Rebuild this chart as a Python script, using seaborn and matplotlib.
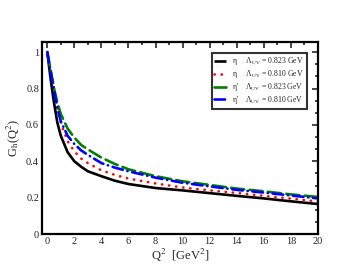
import numpy as np
import pandas as pd
import matplotlib
matplotlib.use("Agg")
import matplotlib.pyplot as plt
import seaborn as sns
from matplotlib.ticker import MultipleLocator, FormatStrFormatter

q2 = [0, 0.25, 0.5, 0.75, 1, 1.5, 2, 2.5, 3, 4, 5, 6, 8, 10, 12, 14, 16, 18, 20]
eta_823 = [1.0, 0.85, 0.72, 0.61, 0.54, 0.45, 0.40, 0.37, 0.345, 0.318, 0.293, 0.275, 0.253, 0.24, 0.225, 0.21, 0.196, 0.18, 0.165]
eta_810 = [1.0, 0.90, 0.80, 0.69, 0.61, 0.51, 0.455, 0.415, 0.39, 0.35, 0.325, 0.305, 0.278, 0.256, 0.24, 0.226, 0.21, 0.195, 0.179]
etap_823 = [1.0, 0.90, 0.80, 0.72, 0.66, 0.58, 0.53, 0.49, 0.465, 0.42, 0.385, 0.356, 0.318, 0.29, 0.27, 0.25, 0.235, 0.218, 0.204]
etap_810 = [1.0, 0.89, 0.79, 0.69, 0.62, 0.54, 0.495, 0.46, 0.435, 0.39, 0.365, 0.345, 0.31, 0.282, 0.262, 0.243, 0.228, 0.212, 0.196]

labels = ["η     Λ$_{\\mathrm{UV}}$ = 0.823 GeV",
          "η     Λ$_{\\mathrm{UV}}$ = 0.810 GeV",
          "η'    Λ$_{\\mathrm{UV}}$ = 0.823 GeV",
          "η'    Λ$_{\\mathrm{UV}}$ = 0.810 GeV"]

sns.set_theme(style="white")
plt.rcParams['font.family'] = ['Liberation Serif', 'DejaVu Serif']
plt.rcParams['mathtext.fontset'] = 'stix'

fig = plt.figure(figsize=(3.58, 2.77), dpi=100)
ax = fig.add_axes([0.117, 0.155, 0.771, 0.693])

series = [eta_823, eta_810, etap_823, etap_810]
colors = ["black", "red", "green", "blue"]
styles = ["-", (0, (0.1, 2.6)), (0, (5, 2)), (0, (4, 1.8, 0.1, 1.8))]
for ys, c, ls, lab in zip(series, colors, styles, labels):
    sns.lineplot(x=q2, y=ys, ax=ax, color=c, linestyle=ls, lw=1.9, label=lab,
                 dash_capstyle="round", solid_capstyle="butt")

ax.set_xlim(-0.4, 20)
ax.set_ylim(0, 1.055)
ax.xaxis.set_major_locator(MultipleLocator(2))
ax.xaxis.set_minor_locator(MultipleLocator(1))
ax.yaxis.set_major_locator(MultipleLocator(0.2))
ax.yaxis.set_minor_locator(MultipleLocator(0.2 / 3))
ax.yaxis.set_major_formatter(FormatStrFormatter('%g'))
ax.xaxis.set_major_formatter(FormatStrFormatter('%g'))
ax.tick_params(which="both", direction="in", top=True, right=True, labelsize=7.5,
               width=1.2, pad=2)
ax.tick_params(which="major", length=4)
ax.tick_params(which="minor", length=2.5)
for s in ax.spines.values():
    s.set_linewidth(1.6)
    s.set_color("black")

ax.set_xlabel(r"Q$^2$  [GeV$^2$]", fontsize=9, labelpad=1)
ax.set_ylabel(r"G$_{\mathrm{h}}$(Q$^2$)", fontsize=9, labelpad=3)

leg = ax.legend(loc="upper right", bbox_to_anchor=(0.96, 0.945), fontsize=5.6,
                frameon=True, fancybox=False, handlelength=1.5, handletextpad=0.8,
                borderpad=0.35, labelspacing=0.12, borderaxespad=0)
leg.get_frame().set_edgecolor("black")
leg.get_frame().set_linewidth(1.5)

fig.savefig("out.png", dpi=100)
